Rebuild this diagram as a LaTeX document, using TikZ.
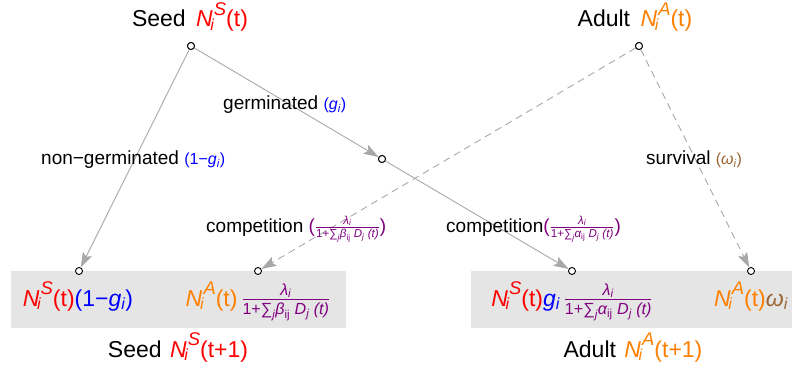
\documentclass[tikz,border=0pt]{standalone}
\usepackage{fontspec}
\setmainfont{Liberation Sans}
\usepackage{amsmath}
\usepackage{graphicx}
\usetikzlibrary{arrows.meta}
\definecolor{cred}{rgb}{1,0,0}
\definecolor{corange}{rgb}{1,0.5,0}
\definecolor{cblue}{rgb}{0,0,1}
\definecolor{cpurple}{rgb}{0.5,0,0.5}
\definecolor{cbrown}{rgb}{0.6,0.4,0.2}
\definecolor{cline}{rgb}{0.66,0.66,0.66}
\definecolor{cbox}{rgb}{0.898,0.898,0.898}
\newcommand{\NN}[1]{\textit{N}\makebox[0pt][l]{\hspace{-0.1em}\raisebox{-0.17em}{\scalebox{0.7}{\textit{i}}}}\hspace{0.05em}\raisebox{0.5em}{\scalebox{0.8}{\textit{#1}}}}
\newcommand{\myfrac}[2]{\ensuremath{\genfrac{}{}{1.2pt}{}{#1}{#2}}}
\newcommand{\lam}{\textit{λ}_{\textit{i}}}
\newcommand{\denb}{\text{1+∑}_{\textit{j}}\textit{β}_{\text{ij}}\text{ }\textit{D}_{\textit{j}}\text{ }\textit{(t)}}
\newcommand{\dena}{\text{1+∑}_{\textit{j}}\textit{α}_{\text{ij}}\text{ }\textit{D}_{\textit{j}}\text{ }\textit{(t)}}
\newcommand{\bp}[1]{{\fontsize{19}{20}\selectfont #1}}
\tikzset{
  dot/.style={circle,draw=black,line width=0.9pt,fill=white,inner sep=0pt,minimum size=7pt},
  conn/.style={draw=cline,line width=0.9pt,-{Stealth[length=15pt,width=10pt,inset=3pt,fill=cline]}},
  dconn/.style={conn,dash pattern=on 7pt off 5pt},
  bigtxt/.style={inner sep=0pt,anchor=base,font=\fontsize{23}{27}\selectfont},
  lbl/.style={inner sep=0pt,anchor=base west,font=\fontsize{19}{22}\selectfont},
  boxbg/.style={fill=cbox,draw=none}
}
\begin{document}
\begin{tikzpicture}[x=1pt,y=-1pt]
\clip (0,0) rectangle (792,366);
\fill[white] (0,0) rectangle (792,366);
% grey boxes
\path[boxbg] (11,271) rectangle (346,328);
\path[boxbg] (471,271) rectangle (800,328);
% titles
\node[bigtxt] (seedT) at (190,27) {Seed\hspace{4pt} {\color{cred}\NN{S}(t)}};
\node[bigtxt] (adultT) at (635,27) {Adult\hspace{4pt} {\color{corange}\NN{A}(t)}};
\node[bigtxt] (seedB) at (178,357) {Seed\hspace{2pt} {\color{cred}\NN{S}(t+1)}};
\node[bigtxt] (adultB) at (633,357) {Adult\hspace{2pt} {\color{corange}\NN{A}(t+1)}};
% box expressions
\node[bigtxt] (e1) at (78,306) {{\color{cred}\NN{S}(t)}{\color{cblue}(1−\textit{g}$_{\textit{i}}$)}};
\node[bigtxt] (e2) at (258,306) {{\color{corange}\NN{A}(t)}\,{\color{cpurple}$\myfrac{\lam}{\denb}$}};
\node[bigtxt] (e3) at (572,306) {{\color{cred}\NN{S}(t)}{\color{cblue}\textit{g}$_{\textit{i}}$}\,{\color{cpurple}$\myfrac{\lam}{\dena}$}};
\node[bigtxt] (e4) at (751,306) {{\color{corange}\NN{A}(t)}{\color{cbrown}\textit{ω}$_{\textit{i}}$}};
% dots
\node[dot] (s0) at (191,46) {};
\node[dot] (a0) at (639,46) {};
\node[dot] (m0) at (382,159) {};
\node[dot] (b1) at (79,271) {};
\node[dot] (b2) at (258,271) {};
\node[dot] (b3) at (572,271) {};
\node[dot] (b4) at (751,271) {};
% connectors
\draw[conn] (s0) -- (b1);
\draw[conn] (s0) -- (m0);
\draw[conn] (m0) -- (b3);
\draw[dconn] (a0) -- (b2);
\draw[dconn] (a0) -- (b4);
% redraw dots on top
\node[dot] at (s0) {};
\node[dot] at (a0) {};
\node[dot] at (m0) {};
% labels
\node[lbl] (lg) at (223,110) {germinated {\fontsize{16}{18}\selectfont\color{cblue}(\textit{g}$_{\textit{i}}$)}};
\node[lbl] (lng) at (41,165) {non−germinated {\fontsize{16}{18}\selectfont\color{cblue}(1−\textit{g}$_{\textit{i}}$)}};
\node[lbl] (ls) at (646,165) {survival {\fontsize{16}{18}\selectfont\color{cbrown}(\textit{ω}$_{\textit{i}}$)}};
\node[lbl] (lc1) at (206,232) {competition {\fontsize{16.5}{18}\selectfont\color{cpurple}\bp{(}$\myfrac{\lam}{\denb}$\bp{)}}};
\node[lbl] (lc2) at (446,232) {competition{\fontsize{16.5}{18}\selectfont\color{cpurple}\bp{(}$\myfrac{\lam}{\dena}$\bp{)}}};
\end{tikzpicture}
\end{document}
